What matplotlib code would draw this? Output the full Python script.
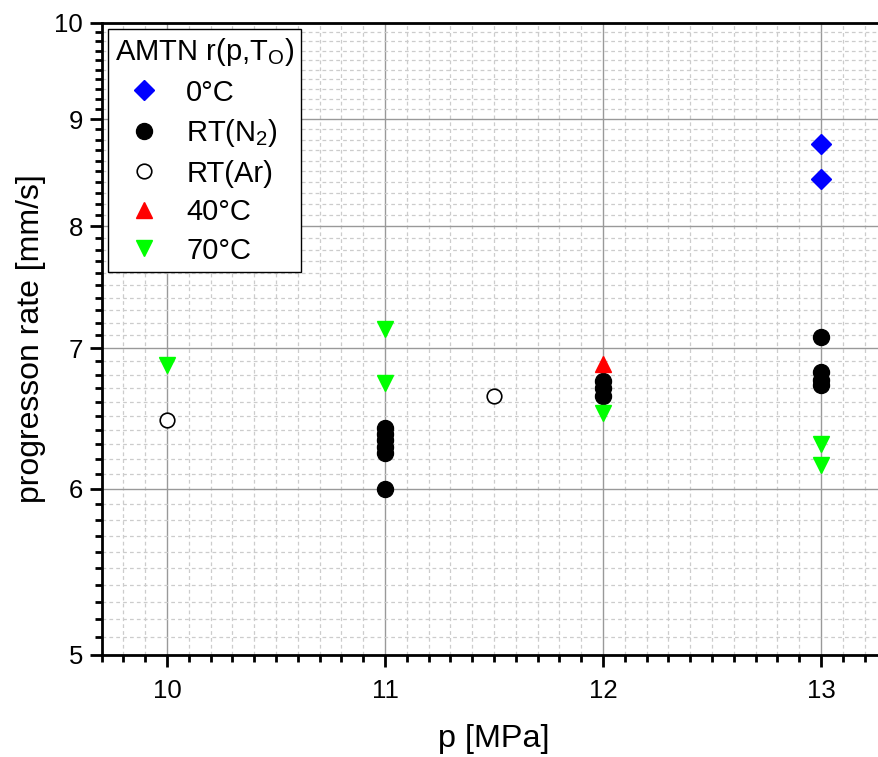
import matplotlib
matplotlib.use("Agg")
import matplotlib.pyplot as plt
from matplotlib.ticker import FixedLocator, MultipleLocator, NullFormatter, FixedFormatter
import numpy as np

plt.rcParams['font.family'] = ['Liberation Sans', 'DejaVu Sans']
plt.rcParams['mathtext.fontset'] = 'custom'
plt.rcParams['mathtext.rm'] = 'Liberation Sans'
plt.rcParams['mathtext.it'] = 'Liberation Sans'

# data
p_0C = [13, 13]
r_0C = [8.76, 8.43]
p_N2 = [11, 11, 11, 11, 11, 11, 12, 12, 12, 13, 13, 13, 13]
r_N2 = [6.41, 6.37, 6.33, 6.28, 6.24, 6.00, 6.75, 6.70, 6.64, 7.09, 6.82, 6.76, 6.72]
p_Ar = [10, 11.5]
r_Ar = [6.47, 6.64]
p_40 = [12]
r_40 = [6.88]
p_70 = [10, 11, 11, 12, 13, 13]
r_70 = [6.87, 7.15, 6.74, 6.52, 6.30, 6.16]

y_ticks = [5, 6, 7, 8, 9, 10]
x_ticks = [10, 11, 12, 13]

W, H = 879, 757
fig = plt.figure(figsize=(W/100, H/100), dpi=100)
x0, x1 = 101.7, 886.4
ytop, ybot = 23, 655
ax = fig.add_axes([x0/W, 1-ybot/H, (x1-x0)/W, (ybot-ytop)/H])

ax.set_yscale('log')
ax.set_xlim(9.7, 13.3)
ax.set_ylim(5, 10)

ax.plot(p_0C, r_0C, 'D', color='#0000ff', ms=10.5, mec='#0000ff', ls='none', label='0°C', zorder=5)
ax.plot(p_N2, r_N2, 'o', color='black', ms=11.5, ls='none', label='RT(N$_2$)', zorder=5)
ax.plot(p_Ar, r_Ar, 'o', mfc='white', mec='black', mew=1.2, ms=10.5, ls='none', label='RT(Ar)', zorder=5)
ax.plot(p_40, r_40, '^', color='#ff0000', ms=11.5, ls='none', label='40°C', zorder=5)
ax.plot(p_70, r_70, 'v', color='#00ff00', ms=11.5, ls='none', label='70°C', zorder=5)

ax.yaxis.set_major_locator(FixedLocator(y_ticks))
ax.yaxis.set_major_formatter(FixedFormatter([str(v) for v in y_ticks]))
ax.yaxis.set_minor_locator(FixedLocator(list(np.round(np.arange(5.1, 10.0, 0.1), 2))))
ax.yaxis.set_minor_formatter(NullFormatter())
ax.xaxis.set_major_locator(FixedLocator(x_ticks))
ax.xaxis.set_major_formatter(FixedFormatter([str(v) for v in x_ticks]))
ax.xaxis.set_minor_locator(MultipleLocator(0.1))

ax.grid(which='major', color='#999999', lw=1.0, ls='-', zorder=1)
ax.grid(which='minor', color='#cccccc', lw=0.9, ls=(0, (3, 2.5)), zorder=0)
ax.set_axisbelow(True)

for s in ['left', 'bottom', 'top', 'right']:
    ax.spines[s].set_linewidth(2)
    ax.spines[s].set_color('black')

ax.tick_params(which='major', direction='out', length=8.6, width=2, labelsize=18.5)
ax.tick_params(which='minor', direction='out', length=4.8, width=2)
ax.tick_params(axis='x', which='major', pad=9)
ax.tick_params(axis='y', which='major', pad=5)
ax.tick_params(axis='x', which='both', top=False)
ax.tick_params(axis='y', which='both', right=False)

ax.set_xlabel('p [MPa]', fontsize=23.3, labelpad=15)
ax.set_ylabel('progresson rate [mm/s]', fontsize=23, labelpad=6)

leg = ax.legend(title='AMTN r(p,T$_\\mathrm{O}$)', loc='upper left', fontsize=21, title_fontsize=21,
                frameon=True, fancybox=False, edgecolor='black', framealpha=1,
                borderpad=0.25, labelspacing=0.36, handletextpad=0.45, handlelength=2.0,
                borderaxespad=0.2, alignment='left')
leg.get_frame().set_linewidth(1.0)

fig.savefig('out.png', dpi=100)
